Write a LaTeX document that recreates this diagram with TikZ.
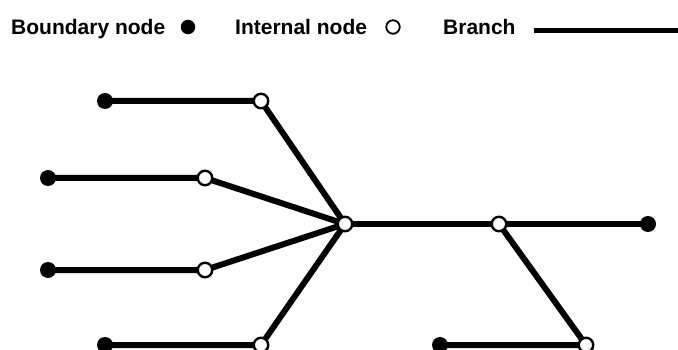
\documentclass[tikz,border=0pt]{standalone}
\usepackage{fontspec}
\setmainfont{Liberation Sans}
\begin{document}
\begin{tikzpicture}[x=1pt,y=-1pt,
  bnode/.style={circle,fill=black,inner sep=0pt,minimum size=16pt},
  inode/.style={circle,fill=white,draw=black,line width=2.4pt,inner sep=0pt,minimum size=14.5pt},
  branch/.style={line width=6pt},
  lbl/.style={font=\bfseries\fontsize{21}{24}\selectfont,anchor=base west,inner sep=0pt}]
\useasboundingbox (0,0) rectangle (678,350);
\clip (0,0) rectangle (678,350);
% legend
\node[lbl] (t1) at (11,35) {Boundary node};
\node[circle,fill=black,inner sep=0pt,minimum size=14.5pt] (l1) at (188,27) {};
\node[lbl] (t2) at (235,35) {Internal node};
\node[circle,draw=black,line width=1.8pt,inner sep=0pt,minimum size=13.5pt] (l2) at (393,27) {};
\node[lbl] (t3) at (443,35) {Branch};
\coordinate (la) at (534,30.5);
\coordinate (lb) at (678,30.5);
\draw[line width=5pt] (la) -- (lb);
% nodes
\coordinate (C0) at (345,224);
\node[bnode] (B1) at (105,101) {};
\node[bnode] (B2) at (48,178) {};
\node[bnode] (B3) at (48,270) {};
\node[bnode] (B4) at (105,345) {};
\node[bnode] (B5) at (648,224) {};
\node[bnode] (B6) at (440,345) {};
\coordinate (I1c) at (261,101);
\coordinate (I2c) at (205,178);
\coordinate (I3c) at (205,270);
\coordinate (I4c) at (261,345);
\coordinate (I5c) at (499,224);
\coordinate (I6c) at (586,345);
\draw[branch] (B1.center) -- (I1c) -- (C0);
\draw[branch] (B2.center) -- (I2c) -- (C0);
\draw[branch] (B3.center) -- (I3c) -- (C0);
\draw[branch] (B4.center) -- (I4c) -- (C0);
\draw[branch] (C0) -- (I5c) -- (B5.center);
\draw[branch] (I5c) -- (I6c) -- (B6.center);
\node[inode] (I1) at (I1c) {};
\node[inode] (I2) at (I2c) {};
\node[inode] (I3) at (I3c) {};
\node[inode] (I4) at (I4c) {};
\node[inode] (I5) at (I5c) {};
\node[inode] (I6) at (I6c) {};
\node[inode] (C) at (C0) {};
\end{tikzpicture}
\end{document}
